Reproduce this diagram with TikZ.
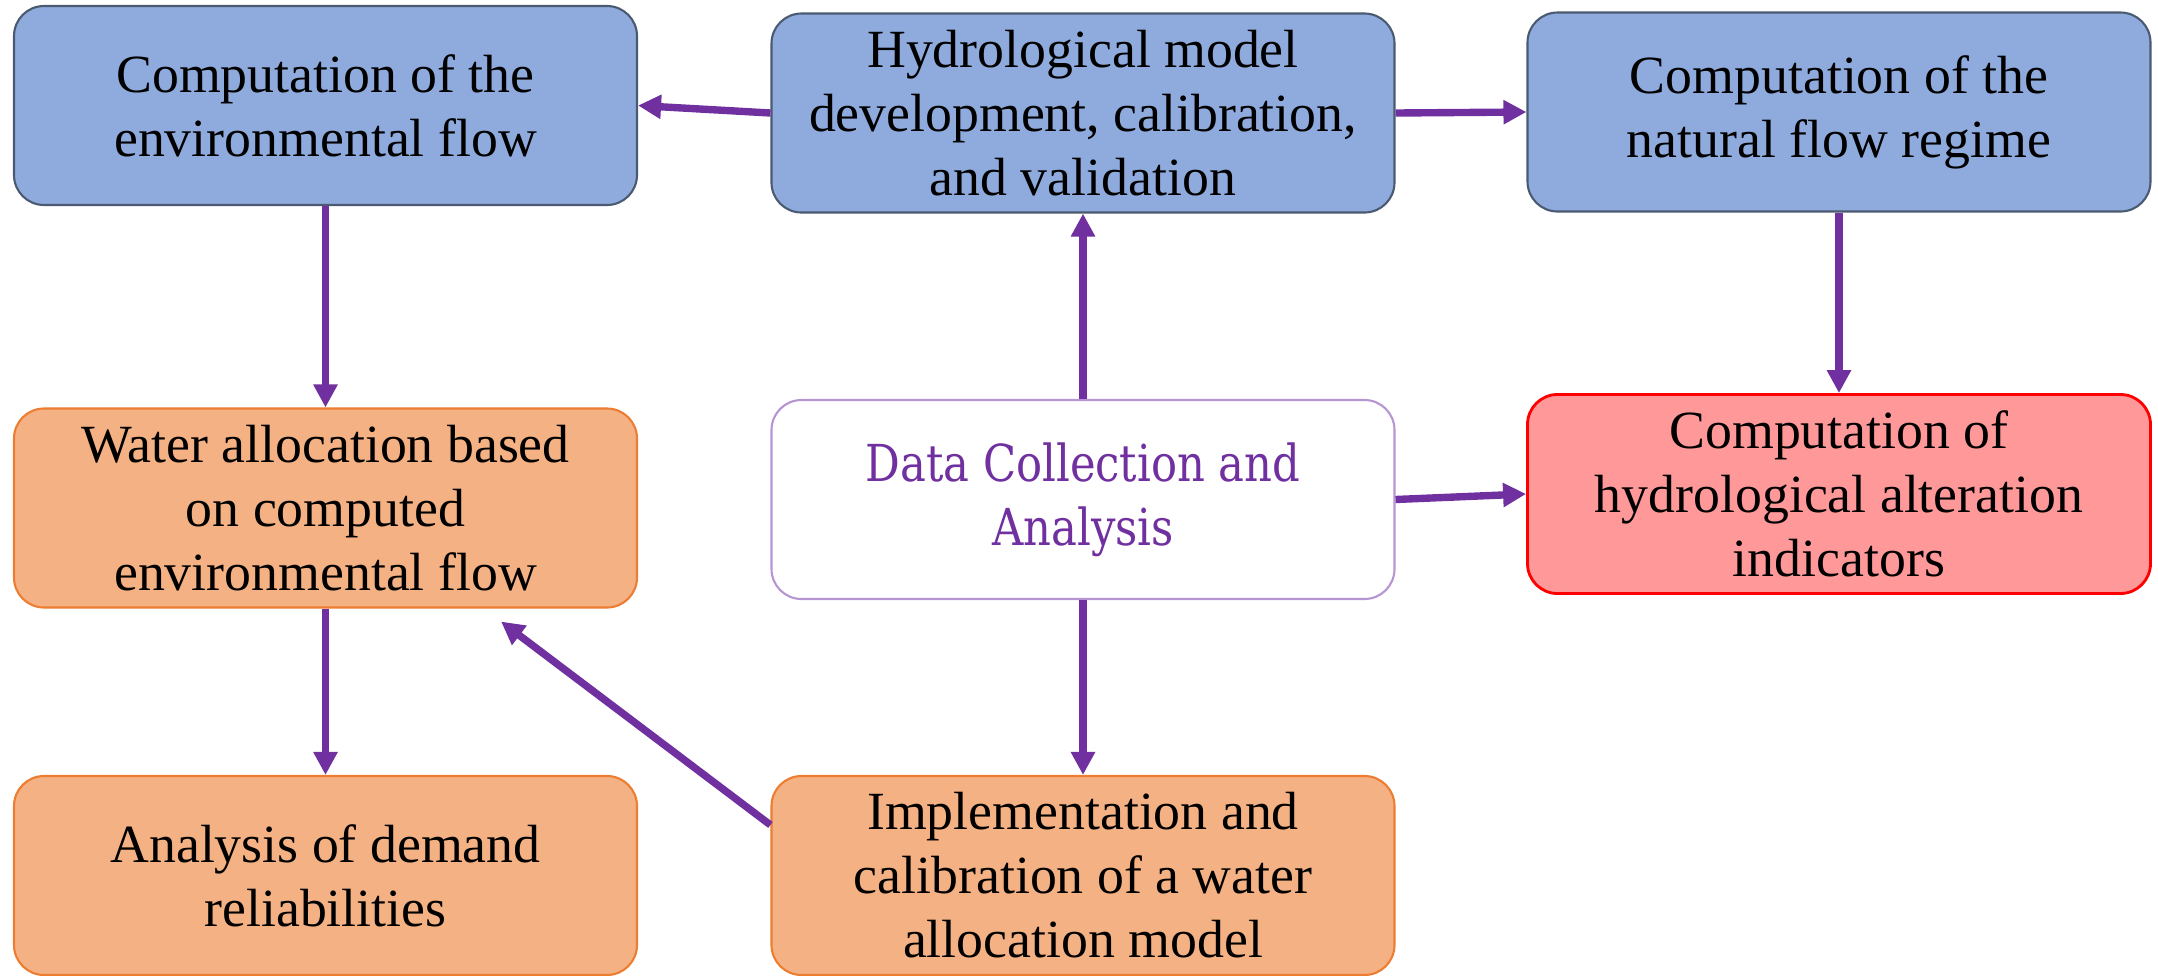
\documentclass[tikz,border=0pt]{standalone}
\usepackage{fontspec}
\setmainfont{Liberation Serif}
\newfontfamily\slabfont[FakeStretch=0.85]{DejaVu Serif}
\usetikzlibrary{arrows.meta}
\definecolor{boxblue}{HTML}{8FAADC}
\definecolor{bluerim}{HTML}{4A5A70}
\definecolor{boxorange}{HTML}{F4B183}
\definecolor{orangerim}{HTML}{ED7D31}
\definecolor{boxred}{HTML}{FF9999}
\definecolor{redrim}{HTML}{FF0000}
\definecolor{lilacrim}{HTML}{B695D3}
\definecolor{flowpurple}{HTML}{7030A0}

\begin{document}
\begin{tikzpicture}
\tikzstyle{every node}+=[inner sep=0pt]
\tikzstyle{proc}=[rounded corners=0.3cm, minimum width=6.23cm, minimum height=1.99cm, align=center, font=\fontsize{15.3}{18.2}\selectfont]
\tikzstyle{bluebox}=[proc, fill=boxblue, draw=bluerim, line width=0.6pt]
\tikzstyle{orangebox}=[proc, fill=boxorange, draw=orangerim, line width=0.6pt]
\tikzstyle{redbox}=[proc, fill=boxred, draw=redrim, line width=0.8pt]
\tikzstyle{databox}=[proc, fill=white, draw=lilacrim, line width=0.6pt, text=flowpurple, font=\slabfont\fontsize{14.5}{18.2}\selectfont]
\tikzstyle{flow}=[draw=flowpurple, line width=2.1pt, -{Triangle[length=0.23cm,width=0.23cm]}]
\useasboundingbox (0,0) rectangle (21.58,-9.75);
\node [bluebox] (envflow) at (3.255,-1.055) {Computation of the\\environmental flow};
\node [bluebox] (hydmodel) at (10.83,-1.13) {Hydrological model\\development, calibration,\\and validation};
\node [bluebox] (natflow) at (18.39,-1.12) {Computation of the\\natural flow regime};
\node [orangebox] (waterall) at (3.255,-5.08) {Water allocation based\\on computed\\environmental flow};
\node [databox] (datacoll) at (10.83,-4.995) {Data Collection and\\Analysis};
\node [redbox] (altind) at (18.39,-4.94) {Computation of\\hydrological alteration\\indicators};
\node [orangebox] (demand) at (3.255,-8.755) {Analysis of demand\\reliabilities};
\node [orangebox] (implement) at (10.83,-8.755) {Implementation and\\calibration of a water\\allocation model};
\draw [flow] (hydmodel.west) -- (envflow.east);
\draw [flow] (hydmodel.east) -- (natflow.west);
\draw [flow] (datacoll.north) -- (hydmodel.south);
\draw [flow] (datacoll.south) -- (implement.north);
\draw [flow] (datacoll.east) -- (altind.west);
\draw [flow] (natflow.south) -- (altind.north);
\draw [flow] (envflow.south) -- (waterall.north);
\draw [flow] (waterall.south) -- (demand.north);
\draw [flow] ([yshift=-0.5cm]implement.north west) -- ([xshift=-1.37cm,yshift=-0.13cm]waterall.south east);
\end{tikzpicture}
\end{document}
